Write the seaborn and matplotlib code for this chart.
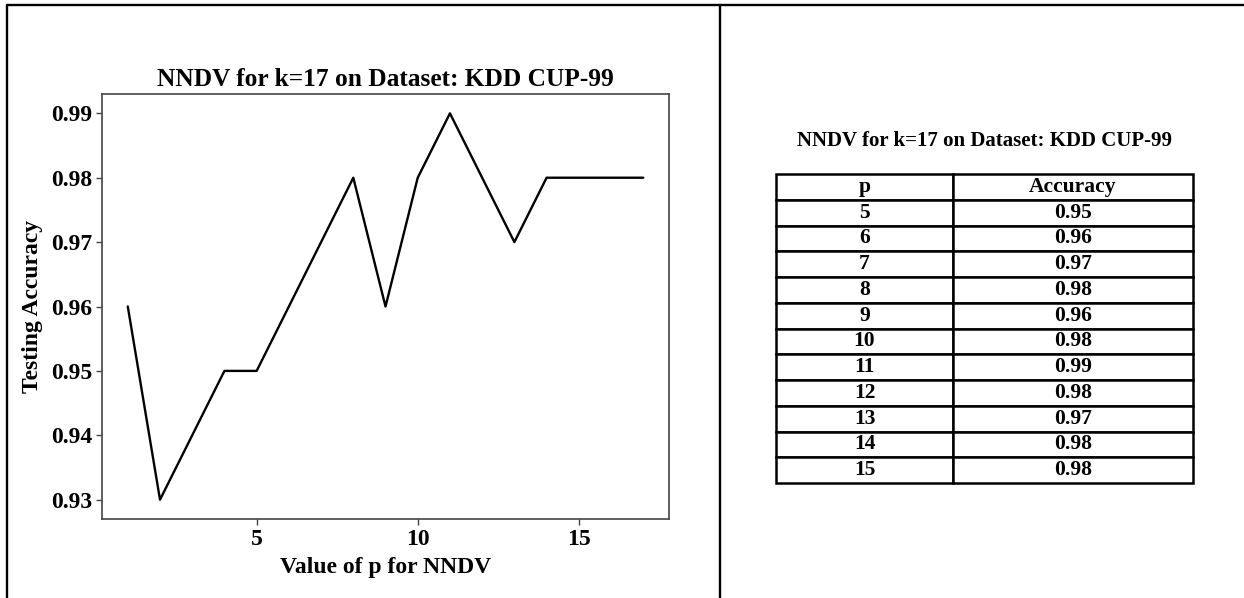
import matplotlib
matplotlib.use("Agg")
import matplotlib.pyplot as plt
from matplotlib.lines import Line2D
import seaborn as sns
import pandas as pd

# Testing accuracy of NNDV (k=17) on KDD CUP-99 for each value of p
p_values = [1, 2, 3, 4, 5, 6, 7, 8, 9, 10, 11, 12, 13, 14, 15, 16, 17]
accuracy = [0.96, 0.93, 0.94, 0.95, 0.95, 0.96, 0.97, 0.98, 0.96, 0.98,
            0.99, 0.98, 0.97, 0.98, 0.98, 0.98, 0.98]
y_ticks = [0.93, 0.94, 0.95, 0.96, 0.97, 0.98, 0.99]
x_ticks = [5, 10, 15]
table_p_range = (5, 15)
title_text = "NNDV for k=17 on Dataset: KDD CUP-99"
table_header = ["p", "Accuracy"]

sns.set_theme(style="white")
plt.rcParams["font.family"] = ["Liberation Serif", "DejaVu Serif"]
plt.rcParams["font.weight"] = "bold"
plt.rcParams["text.color"] = "black"
plt.rcParams["axes.labelcolor"] = "black"
plt.rcParams["xtick.color"] = "black"
plt.rcParams["ytick.color"] = "black"

df = pd.DataFrame({"p": p_values, "acc": accuracy})

fig = plt.figure(figsize=(12.44, 5.98), dpi=100)
fig.patch.set_facecolor("white")

# ---- line chart ----
ax = fig.add_axes([0.082, 0.1321, 0.4558, 0.7107])
sns.lineplot(data=df, x="p", y="acc", ax=ax, color="black", linewidth=1.7)
ax.set_xlim(0.2, 17.8)
ax.set_ylim(0.927, 0.993)
ax.set_yticks(y_ticks)
ax.set_yticklabels([f"{v:.2f}" for v in y_ticks])
ax.set_xticks(x_ticks)
for s in ax.spines.values():
    s.set_color("#444444")
    s.set_linewidth(1.2)
ax.tick_params(axis="both", which="both", direction="out", length=4, width=1,
               color="#444444", labelcolor="black", labelsize=17, pad=3,
               left=True, bottom=True)
for lab in ax.get_xticklabels() + ax.get_yticklabels():
    lab.set_fontweight("bold")
ax.set_title(title_text, fontsize=18.3, fontweight="bold", pad=6, color="black")
ax.set_xlabel("Value of p for NNDV", fontsize=17, fontweight="bold", labelpad=5)
ax.set_ylabel("Testing Accuracy", fontsize=17, fontweight="bold", labelpad=6)

# ---- table ----
sub = df[(df["p"] >= table_p_range[0]) & (df["p"] <= table_p_range[1])]
cell_text = [[str(p), f"{a:.2f}"] for p, a in zip(sub["p"], sub["acc"])]

tax = fig.add_axes([0.6238, 0.1923, 0.3352, 0.5167])
tax.axis("off")
tbl = tax.table(cellText=cell_text, colLabels=table_header,
                colWidths=[0.4245, 0.5755], cellLoc="center",
                bbox=[0, 0, 1, 1])
tbl.auto_set_font_size(False)
for (r, c), cell in tbl.get_celld().items():
    cell.set_linewidth(1.8)
    cell.set_edgecolor("black")
    cell.set_facecolor("white")
    cell.get_text().set_fontsize(15.5)
    cell.get_text().set_fontweight("bold")
    cell.get_text().set_color("black")
    cell.PAD = 0.02

fig.text(0.7915, 0.765, title_text, ha="center", va="center",
         fontsize=15, fontweight="bold", color="black")

# ---- page frame lines ----
frame_kw = dict(color="black", linewidth=1.7, transform=fig.transFigure)
fig.add_artist(Line2D([0.0056, 1.0], [0.9916, 0.9916], **frame_kw))
fig.add_artist(Line2D([0.0056, 0.0056], [0.0, 0.9916], **frame_kw))
fig.add_artist(Line2D([0.5788, 0.5788], [0.0, 0.9916], **frame_kw))

fig.savefig("out.png", dpi=100, facecolor="white")
